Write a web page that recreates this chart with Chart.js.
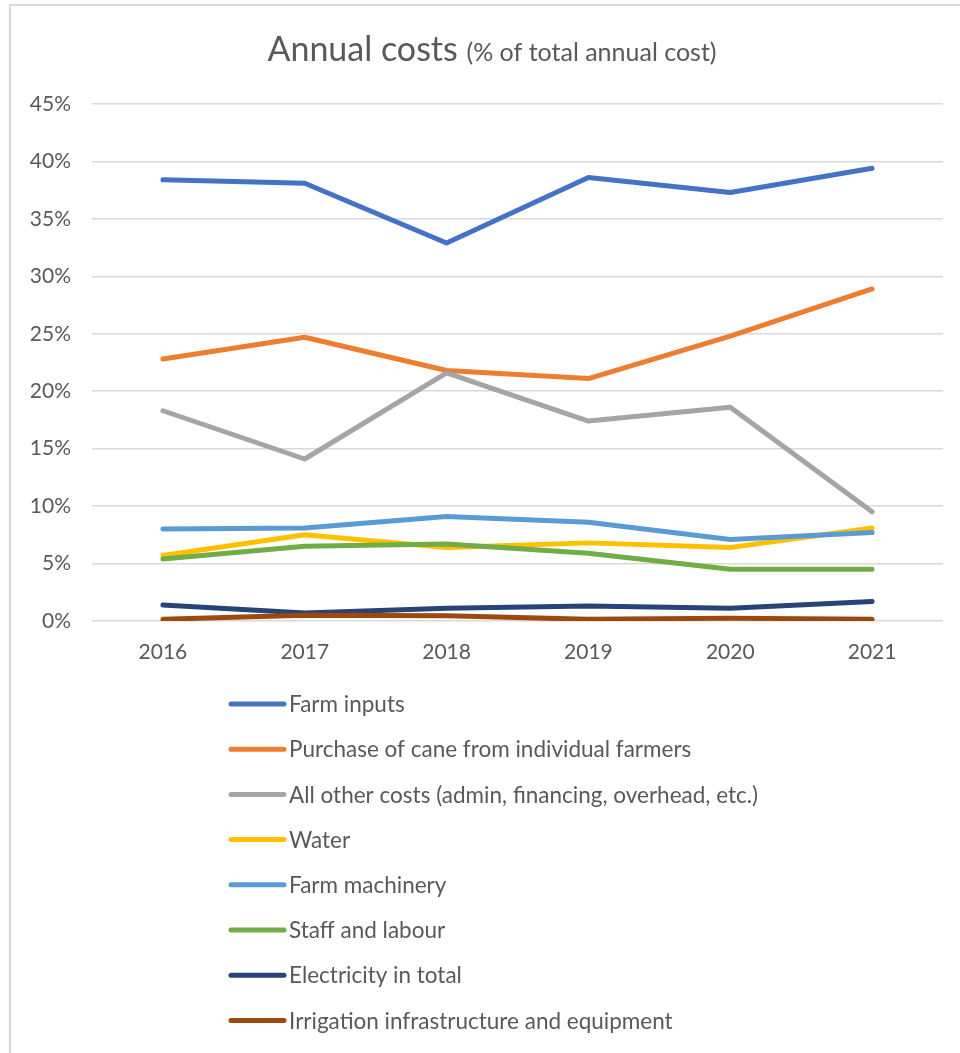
<!DOCTYPE html>
<html lang="en">
<head>
    <meta charset="UTF-8">
    <title>Annual costs</title>
    <script src="https://cdn.jsdelivr.net/npm/chart.js"></script>
    <style>
        body { margin: 0; background: #fff; }
        #wrap { position: relative; width: 960px; height: 1053px; }
        #frame { position: absolute; left: 9px; top: 4px; right: 0; bottom: 0;
                 border-top: 2px solid #d9d9d9; border-left: 2px solid #d9d9d9; pointer-events: none; }
    </style>
</head>
<body>
<div id="wrap">
    <canvas id="chart"></canvas>
    <div id="frame"></div>
</div>

<script>
    // data
    const years = ['2016', '2017', '2018', '2019', '2020', '2021'];
    const farmInputs = [38.4, 38.1, 32.9, 38.6, 37.3, 39.4];
    const caneFromFarmers = [22.8, 24.7, 21.8, 21.1, 24.8, 28.9];
    const otherCosts = [18.3, 14.1, 21.6, 17.4, 18.6, 9.5];
    const water = [5.7, 7.5, 6.4, 6.8, 6.4, 8.1];
    const farmMachinery = [8.0, 8.1, 9.1, 8.6, 7.1, 7.7];
    const staffLabour = [5.4, 6.5, 6.7, 5.9, 4.5, 4.5];
    const electricity = [1.4, 0.7, 1.1, 1.3, 1.1, 1.7];
    const irrigation = [0.15, 0.5, 0.45, 0.15, 0.25, 0.15];
    const yTicks = [0, 5, 10, 15, 20, 25, 30, 35, 40, 45];

    const series = [
        ['Farm inputs', farmInputs, '#4472C4'],
        ['Purchase of cane from individual farmers', caneFromFarmers, '#ED7D31'],
        ['All other costs (admin, financing, overhead, etc.)', otherCosts, '#A5A5A5'],
        ['Water', water, '#FFC000'],
        ['Farm machinery', farmMachinery, '#5B9BD5'],
        ['Staff and labour', staffLabour, '#70AD47'],
        ['Electricity in total', electricity, '#264478'],
        ['Irrigation infrastructure and equipment', irrigation, '#9E480E']
    ];

    const FONT = 'Lato, "Open Sans", sans-serif';
    const GREY = '#595959';

    // title with a smaller subtitle on the same line
    const titlePlugin = {
        id: 'mixedTitle',
        afterDraw(chart) {
            const ctx = chart.ctx;
            const big = 'Annual costs ';
            const small = '(% of total annual cost)';
            ctx.save();
            ctx.fillStyle = GREY;
            ctx.textBaseline = 'alphabetic';
            ctx.font = '34px ' + FONT;
            const w1 = ctx.measureText(big).width;
            ctx.font = '25px ' + FONT;
            const w2 = ctx.measureText(small).width;
            let x = 492 - (w1 + w2) / 2;
            ctx.textAlign = 'left';
            ctx.font = '34px ' + FONT;
            ctx.fillText(big, x, 61);
            ctx.font = '25px ' + FONT;
            ctx.fillText(small, x + w1, 61);
            ctx.restore();
        }
    };

    // one legend entry per row under the axis
    const listLegend = {
        id: 'listLegend',
        afterDraw(chart) {
            const ctx = chart.ctx;
            ctx.save();
            ctx.font = '22.5px ' + FONT;
            ctx.textBaseline = 'middle';
            ctx.lineCap = 'round';
            ctx.lineWidth = 5;
            chart.data.datasets.forEach((ds, i) => {
                const y = 704 + i * 45.2;
                ctx.strokeStyle = ds.borderColor;
                ctx.beginPath();
                ctx.moveTo(231, y);
                ctx.lineTo(284, y);
                ctx.stroke();
                ctx.fillStyle = GREY;
                ctx.fillText(ds.label, 289, y + 1);
            });
            ctx.restore();
        }
    };

    const ctx = document.getElementById('chart').getContext('2d');
    new Chart(ctx, {
        type: 'line',
        data: {
            labels: years,
            datasets: series.map(([label, values, color], i) => ({
                label: label,
                data: values,
                borderColor: color,
                backgroundColor: color,
                borderWidth: 5,
                borderCapStyle: 'round',
                borderJoinStyle: 'round',
                pointRadius: 0,
                tension: 0,
                fill: false,
                order: series.length - i
            }))
        },
        options: {
            responsive: true,
            maintainAspectRatio: false,
            animation: false,
            layout: { padding: { left: 0, right: 17, top: 104, bottom: 382 } },
            plugins: {
                legend: { display: false },
                title: { display: false },
                tooltip: { enabled: false }
            },
            scales: {
                x: {
                    offset: true,
                    grid: { display: false, drawTicks: false },
                    border: { display: false },
                    ticks: { color: GREY, font: { family: FONT, size: 21 }, padding: 19 },
                    afterFit: s => { s.height = 50; }
                },
                y: {
                    min: 0,
                    max: 45,
                    afterBuildTicks: s => { s.ticks = yTicks.map(v => ({ value: v })); },
                    grid: { color: '#d9d9d9', lineWidth: 1.5, drawTicks: false },
                    border: { display: false },
                    ticks: {
                        color: GREY,
                        font: { family: FONT, size: 21 },
                        padding: 21,
                        callback: v => v + '%'
                    },
                    afterFit: s => { s.width = 92; }
                }
            }
        },
        plugins: [titlePlugin, listLegend]
    });
</script>
</body>
</html>
